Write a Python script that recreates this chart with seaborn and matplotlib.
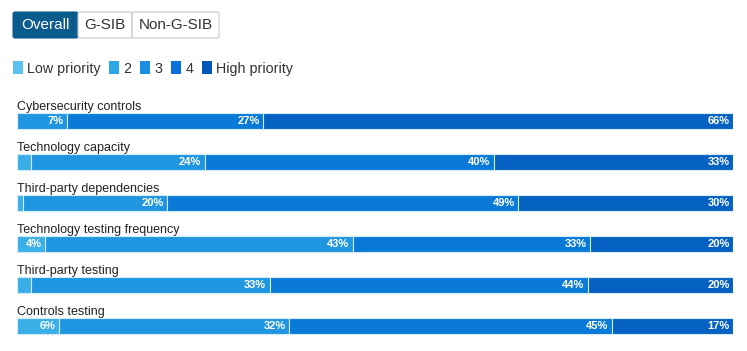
#!/usr/bin/env python3

import matplotlib
matplotlib.use("Agg")
from matplotlib import pyplot as plt
from matplotlib.patches import FancyBboxPatch, Patch
from matplotlib.transforms import Affine2D
import pandas as pd
import seaborn as sns

topics = [
    "Cybersecurity controls",
    "Technology capacity",
    "Third-party dependencies",
    "Technology testing frequency",
    "Third-party testing",
    "Controls testing",
]
levels = ["Low priority", "2", "3", "4", "High priority"]

# shares in % per priority level
low = [0.0, 0.0, 0.0, 0.0, 0.0, 0.0]
p2 = [0.0, 2.0, 0.8, 3.9, 2.0, 5.9]
p3 = [7.0, 24.2, 20.2, 43.0, 33.3, 32.1]
p4 = [27.4, 40.4, 49.0, 33.1, 44.4, 45.1]
high = [65.6, 33.4, 30.0, 20.0, 20.3, 16.9]

bar_colors = ["#5cc0ec", "#3aaee6", "#2196e0", "#0a7ad9", "#0562c3"]
legend_colors = ["#5bc2ef", "#2aa7e4", "#1a8ee0", "#0a6fd8", "#0457b8"]
buttons = ["Overall", "G-SIB", "Non-G-SIB"]

W, H = 747, 351


def main():
    shares = pd.DataFrame(dict(zip(levels, [low, p2, p3, p4, high])), index=topics)
    ends = shares.cumsum(axis=1)
    long = ends.reset_index(names="topic").melt(
            id_vars="topic", var_name="level", value_name="end")

    sns.set_theme(style="white")
    plt.rcParams["font.family"] = ["Liberation Sans", "DejaVu Sans"]

    fig = plt.figure(figsize=(W / 100, H / 100), dpi=100)
    px = Affine2D().scale(1 / W, 1 / H) + fig.transFigure  # pixel units, origin bottom-left

    ax = fig.add_axes([17 / W, 4.5 / H, 716 / W, 246 / H])

    # stacked bars: draw the cumulative ends from the top level down
    for lvl, col in reversed(list(zip(levels, bar_colors))):
        sns.barplot(
                data=long[long.level == lvl], x="end", y="topic", order=topics,
                orient="y", color=col, saturation=1, width=0.37, errorbar=None,
                edgecolor="#d4ebf8", linewidth=0.8, ax=ax,
                )

    for lvl in levels:
        for i, t in enumerate(topics):
            v = shares.loc[t, lvl]
            if v >= 3.5:
                ax.annotate(
                        f"{v:.0f}%", (ends.loc[t, lvl], i), xytext=(-2.5, 0),
                        textcoords="offset points", ha="right", va="center",
                        color="white", fontsize=8, fontweight="bold",
                        )

    for i, t in enumerate(topics):
        ax.text(0, i - 0.28, t, ha="left", va="baseline", fontsize=9, color="#222222")

    ax.set_xlim(0, 100)
    ax.set_ylim(5.5, -0.5)
    ax.axis("off")

    # button bar
    edges = [13, 78, 132, 219]
    for k, name in enumerate(buttons):
        x0, x1 = edges[k], edges[k + 1]
        selected = k == 0
        fig.patches.append(FancyBboxPatch(
                (x0, H - 38), x1 - x0, 26, boxstyle="round,pad=0,rounding_size=2",
                facecolor="#0b5c8c" if selected else "white",
                edgecolor="#0b5c8c" if selected else "#c8c8c8",
                linewidth=0.8, transform=px,
                ))
        fig.text((x0 + x1) / 2, H - 25, name, transform=px, ha="center", va="center",
                 fontsize=11, color="white" if selected else "#333333")

    handles = [Patch(facecolor=c, edgecolor="none", label=l)
               for c, l in zip(legend_colors, levels)]
    fig.legend(
            handles=handles, loc="center left", bbox_to_anchor=(13, H - 68.5),
            bbox_transform=px, ncol=5, frameon=False, fontsize=10.3,
            handlelength=0.7, handleheight=1.0, handletextpad=0.3,
            columnspacing=0.6, borderpad=0, borderaxespad=0, labelcolor="#333333",
            )

    fig.savefig("out.png", dpi=100)


if __name__ == "__main__":
    main()
